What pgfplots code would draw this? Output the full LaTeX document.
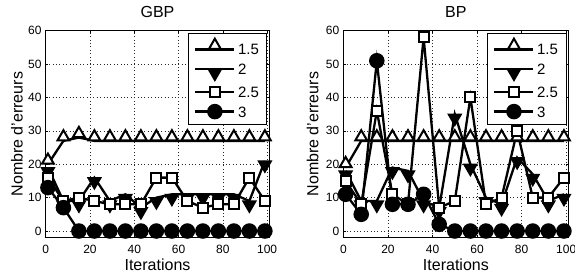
\documentclass[border=0pt]{standalone}
\usepackage{fontspec}
\setmainfont{Liberation Sans}
\usepackage{pgfplots}
\pgfplotsset{compat=1.18}

\pgfplotsset{
  myax/.style={
    scale only axis, height=207pt,
    xmin=0, xmax=101, ymin=-2, ymax=60,
    xtick={0,20,...,100}, ytick={0,10,...,60},
    grid=major,
    major grid style={black!85, line width=0.5pt, dash pattern=on 0.8pt off 2.6pt},
    axis line style={line width=0.9pt},
    tick align=inside, major tick length=2.5pt,
    tick style={line width=0.6pt, black},
    tick label style={font=\fontsize{12}{14}\selectfont},
    /pgf/number format/assume math mode=true,
    xticklabel style={anchor=base, yshift=-15.6pt, inner sep=0pt},
    yticklabel style={anchor=east, xshift=-4pt, inner sep=0pt},
    title style={at={([yshift=7.4pt]axis description cs:0.5,1)}, anchor=base, inner sep=0pt, font=\fontsize{16}{19}\selectfont},
    xlabel style={at={([yshift=-33pt]axis description cs:0.5,0)}, anchor=base, inner sep=0pt, font=\fontsize{16}{19}\selectfont},
    xlabel={Iterations},
    ylabel={Nombre d'erreurs},
    legend style={at={(axis description cs:1,1)}, anchor=north east, xshift=-2pt, yshift=-2.3pt,
      draw=black, line width=0.9pt, inner xsep=5.5pt, inner ysep=5.25pt, row sep=4pt,
      font=\fontsize{15}{18}\selectfont,
      nodes={inner sep=2.5pt, text height=10.8pt, text depth=0pt}},
    legend cell align=left,
    legend image code/.code={\draw[mark repeat=2,mark phase=2,##1] plot coordinates {(0pt,0pt) (19.5pt,0pt) (39pt,0pt)};},
  },
  s15/.style={black, line width=2.3pt, mark=triangle*, mark size=6.8pt, mark options={solid, fill=white, line width=2pt, yshift=3.9pt}},
  s2/.style={black, line width=2.3pt, mark=triangle*, mark size=6.8pt, mark options={solid, fill=black, line width=2pt, yshift=-3.9pt, rotate=180}},
  s25/.style={black, line width=2.3pt, mark=square*, mark size=5pt, mark options={solid, fill=white, line width=2pt}},
  s3/.style={black, line width=2.3pt, mark=*, mark size=6.6pt, mark options={solid, fill=black}},
}

\pgfplotstableread{
x   a    b    c    d
1   20   19   16   13
8   27   9    9    7
15  28   9    10   0
22  27   16   9    0
29  27   9    8    0
36  27   11   8    0
43  27   7    8    0
50  27   10   16   0
57  27   11   16   0
64  27   11   9    0
71  27   11   7    0
78  27   11   8    0
85  27   11   8    0
92  27   9    16   0
99  27   21   9    0
}\gbp

\pgfplotstableread{
x   a    b    c    d
1   19   18   15   11
8   27   9    8    5
15  27   9    36   51
22  27   19   11   8
29  27   18   8    8
36  27   9    58   11
43  27   7    7    2
50  27   35   9    0
57  27   20   40   0
64  27   10   8    0
71  27   8    10   0
78  27   22   30   0
85  27   17   10   0
92  27   9    10   0
99  27   11   16   0
}\bp

\begin{document}
\begin{tikzpicture}
\useasboundingbox (0,0) rectangle (575pt,278pt);
\begin{axis}[myax, at={(45.7pt,40.3pt)}, anchor=south west, width=223.6pt,
  title={GBP},
  ylabel style={at={([xshift=-23pt]axis description cs:0,0.5)}, anchor=base, inner sep=0pt, font=\fontsize{16}{19}\selectfont}]
\addplot[s15] table[x=x,y=a] {\gbp};
\addplot[s2] table[x=x,y=b] {\gbp};
\addplot[s25] table[x=x,y=c] {\gbp};
\addplot[s3] table[x=x,y=d] {\gbp};
\legend{1.5,2,2.5,3}
\end{axis}
\begin{axis}[myax, at={(343.4pt,40.3pt)}, anchor=south west, width=225pt,
  title={BP},
  ylabel style={at={([xshift=-25pt]axis description cs:0,0.5)}, anchor=base, inner sep=0pt, font=\fontsize{16}{19}\selectfont}]
\addplot[s15] table[x=x,y=a] {\bp};
\addplot[s2] table[x=x,y=b] {\bp};
\addplot[s25] table[x=x,y=c] {\bp};
\addplot[s3] table[x=x,y=d] {\bp};
\legend{1.5,2,2.5,3}
\end{axis}
\end{tikzpicture}
\end{document}
